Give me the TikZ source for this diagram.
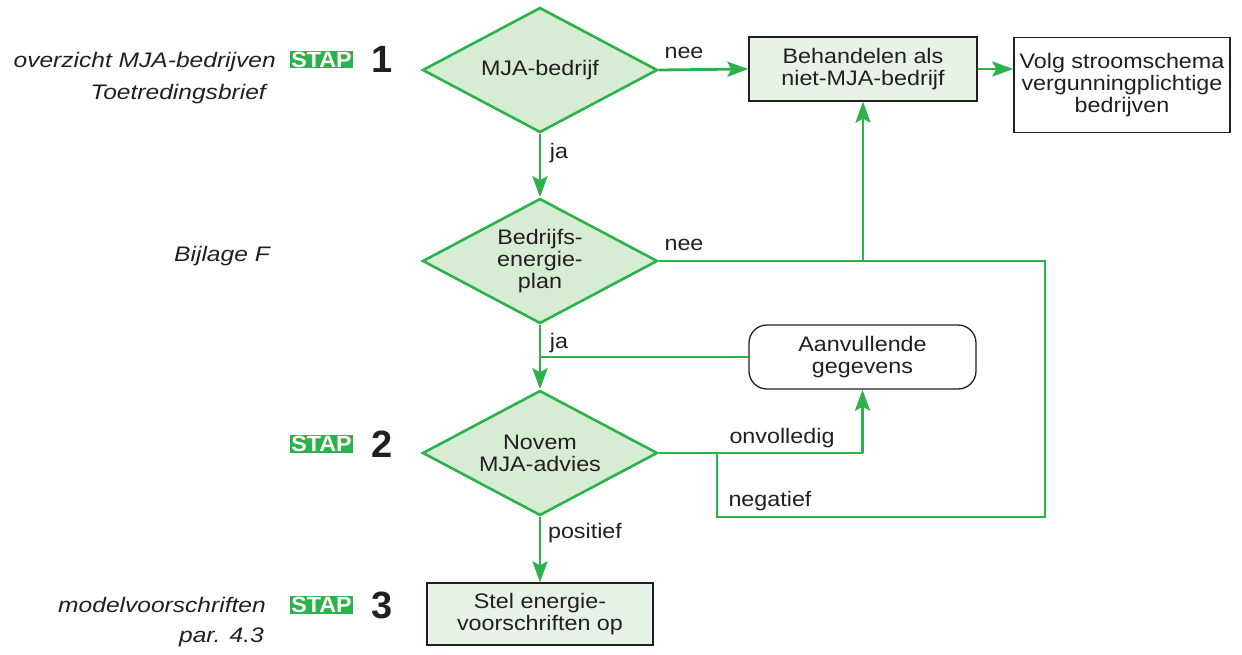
\documentclass[tikz,border=0pt]{standalone}
\usepackage{fontspec}
\setmainfont{Liberation Sans}
\newfontfamily\mainf[FakeStretch=1.11]{Liberation Sans}
\newfontfamily\sidef[FakeStretch=1.17]{Liberation Sans}
\newfontfamily\stapf[FakeStretch=1.06]{Liberation Sans}
\usetikzlibrary{shapes.geometric,arrows.meta}
\definecolor{lgreen}{RGB}{44,178,74}
\definecolor{dfill}{RGB}{214,236,211}
\definecolor{bfill}{RGB}{231,243,230}
\definecolor{txt}{RGB}{35,31,32}
\begin{document}
\begin{tikzpicture}[x=1pt,y=-1pt,
  every node/.style={text=txt},
  main/.style={font=\mainf\fontsize{21}{22}\selectfont, align=center},
  dia/.style={main, shape=diamond, draw=lgreen, line width=2.6pt, fill=dfill,
    inner sep=0pt, minimum width=235pt, minimum height=125pt, aspect=1.88},
  gbox/.style={main, draw=txt, line width=1.3pt, fill=bfill, inner sep=0pt},
  wbox/.style={main, draw=txt, line width=1.3pt, fill=white, inner sep=0pt},
  ln/.style={draw=lgreen, line width=2.8pt},
  arr/.style={ln, -{Stealth[length=21pt,width=15pt,inset=4pt]}},
  lbl/.style={font=\mainf\fontsize{21}{22}\selectfont, inner sep=0pt},
  side/.style={font=\sidef\itshape\fontsize{21}{22}\selectfont, anchor=east, inner sep=0pt},
  stap/.style={fill=lgreen, text=white, font=\stapf\bfseries\fontsize{22}{22}\selectfont, inner sep=0pt, minimum width=63pt, minimum height=17.5pt},
  num/.style={font=\fontsize{38}{38}\selectfont\bfseries, inner sep=0pt}
]
\useasboundingbox (0,0) rectangle (1242,654);

% diamonds
\node[dia] (d1) at (540,70) {MJA-bedrijf};
\node[dia] (d2) at (540,261) {Bedrijfs-\\energie-\\plan};
\node[dia] (d3) at (540,453) {Novem\\MJA-advies};

% boxes
\node[gbox, minimum width=228pt, minimum height=64pt] (beh) at (863,69) {Behandelen als\\niet-MJA-bedrijf};
\node[wbox, minimum width=216pt, minimum height=95pt] (volg) at (1122,85) {Volg stroomschema\\vergunningplichtige\\bedrijven};
\node[wbox, rounded corners=18pt, minimum width=227pt, minimum height=64pt] (aan) at (862.5,357) {Aanvullende\\gegevens};
\node[gbox, minimum width=226pt, minimum height=62pt] (stel) at (540,614) {Stel energie-\\voorschriften op};

% coordinates
\coordinate (c1) at (863,261);
\coordinate (c2) at (1045,261);
\coordinate (c3) at (1045,517);
\coordinate (c4) at (717,517);
\coordinate (c5) at (717,453);
\coordinate (c6) at (862.5,453);
\coordinate (c7) at (540,357);

% connectors
\draw[arr] (d1.east) -- (beh.west);
\draw[arr] (beh.east) -- (volg.west |- beh.east);
\draw[arr] (d1.south) -- (d2.north);
\draw[ln, line join=miter] (d2.east) -- (c2) -- (c3) -- (c4) -- (c5);
\draw[arr] (c1) -- (beh.south);
\draw[arr] (d2.south) -- (d3.north);
\draw[ln] (aan.west) -- (c7);
\draw[ln] (d3.east) -- (c6);
\draw[arr] (c6) -- (aan.south);
\draw[arr] (d3.south) -- (stel.north);

% connector labels
\node[lbl] (l1) at (684,53) {nee};
\node[lbl] (l2) at (559,153) {ja};
\node[lbl] (l3) at (684,245) {nee};
\node[lbl] (l4) at (559,343) {ja};
\node[lbl] (l5) at (782,438) {onvolledig};
\node[lbl] (l6) at (770,501) {negatief};
\node[lbl] (l7) at (585,533) {positief};

% side labels
\node[side] (s1) at (276,62) {overzicht MJA-bedrijven};
\node[side] (s2) at (266,94) {Toetredingsbrief};
\node[side] (s3) at (270,256) {Bijlage F};
\node[side] (s4) at (266,605) {modelvoorschriften};
\node[side] (s5) at (264,637) {par. 4.3};

% STAP markers
\node[stap] (st1) at (321.5,59.5) {STAP};
\node[num] (n1) at (382,59) {1};
\node[stap] (st2) at (321.5,444) {STAP};
\node[num] (n2) at (382,444) {2};
\node[stap] (st3) at (321.5,605) {STAP};
\node[num] (n3) at (382,605) {3};
\end{tikzpicture}
\end{document}
